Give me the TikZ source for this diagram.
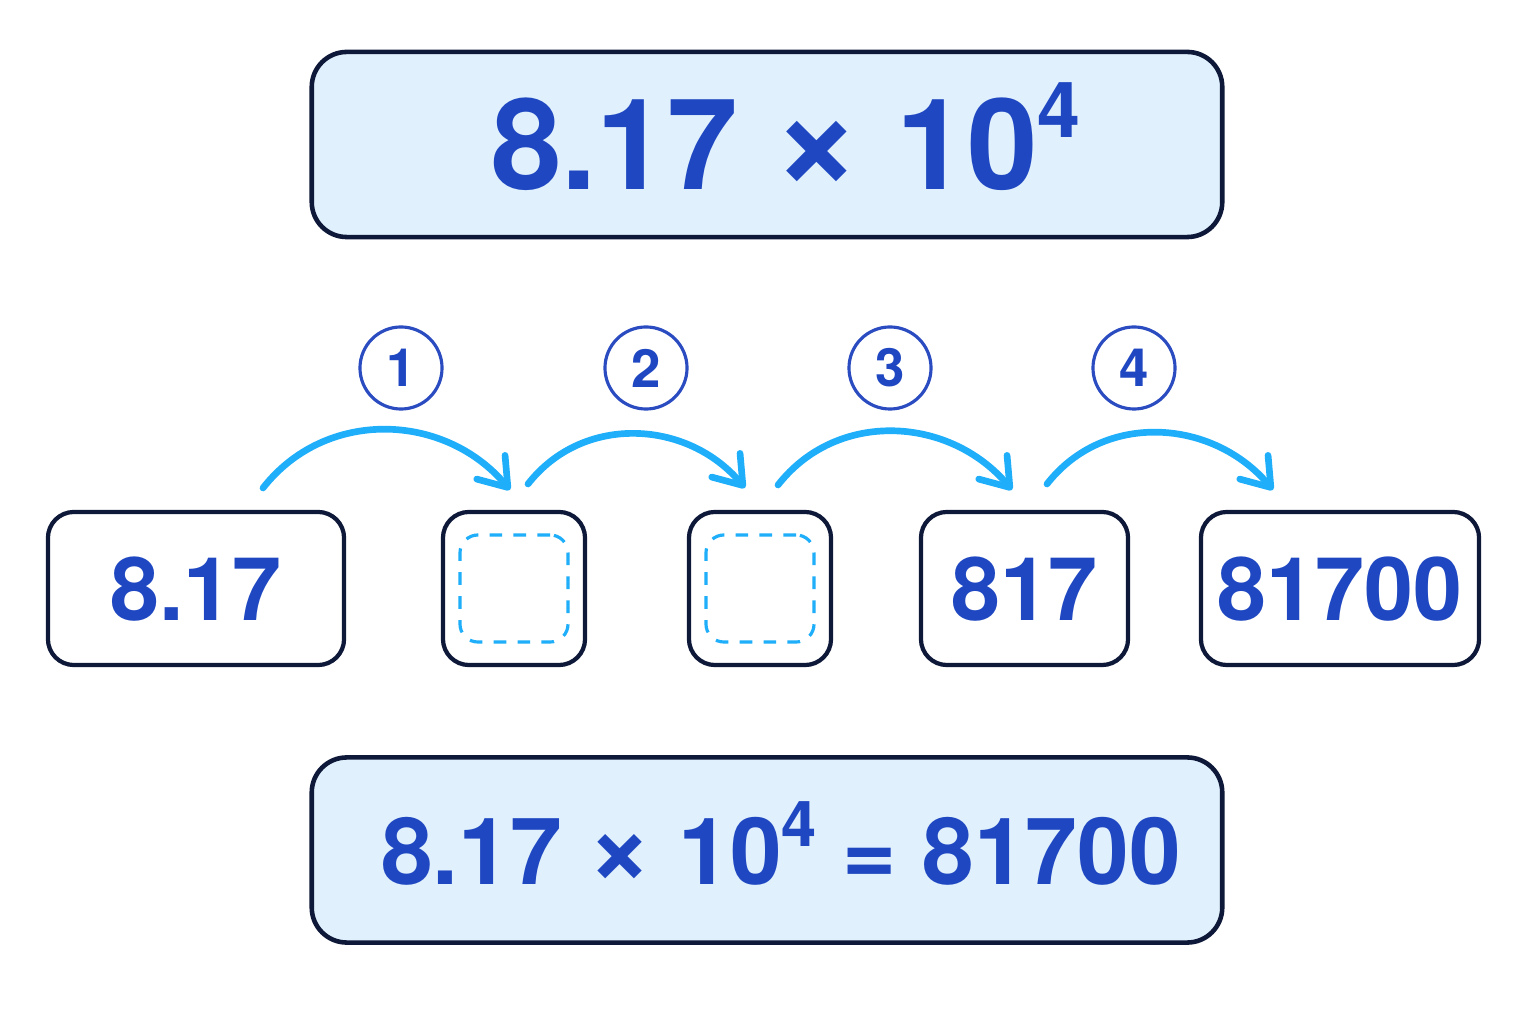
\documentclass[tikz,border=0pt]{standalone}
\usepackage{fontspec}
\setmainfont{TeX Gyre Heros}
\usetikzlibrary{arrows.meta}
\definecolor{numblue}{HTML}{1E47C1}
\definecolor{navy}{HTML}{0E1838}
\definecolor{paleblue}{HTML}{E0F0FC}
\definecolor{skyblue}{HTML}{1EAEFA}
\definecolor{ringblue}{HTML}{2A4CC0}
\newcommand{\bigtimes}{\scalebox{1.2}{×}}

\tikzset{
  resultbox/.style={draw=navy, line width=1.3pt, fill=paleblue, rounded corners=0.35cm,
    minimum width=9.1cm, minimum height=1.85cm},
  digitbox/.style={draw=navy, line width=1.2pt, fill=white, rounded corners=0.26cm,
    minimum height=1.53cm, inner sep=0pt, text height=18pt, text depth=0pt,
    text=numblue, font=\fontsize{25}{25}\selectfont\bfseries},
  slotbox/.style={draw=skyblue, line width=0.9pt, dash pattern=on 3.6pt off 3.2pt,
    rounded corners=0.18cm, minimum width=1.08cm, minimum height=1.07cm},
  stepnum/.style={circle, draw=ringblue, line width=0.9pt, minimum size=0.82cm,
    inner sep=0pt, text=numblue, font=\fontsize{15}{15}\selectfont\bfseries},
  hop/.style={skyblue, line width=1.9pt, line cap=round,
    -{Straight Barb[length=7.5pt,width=10.5pt,line cap=round,line join=round]}}
}

\begin{document}
\begin{tikzpicture}[x=0.01cm, y=0.01cm]
\useasboundingbox (0,0) rectangle (1536,1024);

% expression and result
\node[resultbox] (top) at (767,879.5) {};
\node[anchor=base, text=numblue, font=\fontsize{36}{36}\selectfont\bfseries] (toptxt) at (786,834)
  {8.17 \bigtimes{} 10\raisebox{14.8pt}{\fontsize{22}{22}\selectfont 4}};
\node[resultbox] (bot) at (767,174) {};
\node[anchor=base, text=numblue, font=\fontsize{26.4}{26.4}\selectfont\bfseries] (bottxt) at (781,139)
  {8.17 \bigtimes{} 10\raisebox{11pt}{\fontsize{18}{18}\selectfont 4} = 81700};

% digit boxes
\node[digitbox, minimum width=2.96cm] (b1) at (196,435.5) {8.17};
\node[digitbox, minimum width=1.42cm] (b2) at (514,435.5) {};
\node[digitbox, minimum width=1.42cm] (b3) at (760,435.5) {};
\node[digitbox, minimum width=2.07cm] (b4) at (1024.5,435.5) {817};
\node[digitbox, minimum width=2.78cm] (b5) at (1340,435.5) {81700};
\node[slotbox] (s2) at (b2) {};
\node[slotbox] (s3) at (b3) {};

% steps
\foreach \i/\x in {1/401, 2/646, 3/890, 4/1134}
  \node[stepnum] (n\i) at (\x,656) {\i};

% hops
\foreach \i/\sx/\sy/\ex/\ey in {1/263/536/510/534, 2/528/540/745/536,
                                3/778/539/1012/534, 4/1047/540/1273/534} {
  \coordinate (h\i s) at (\sx,\sy);
  \coordinate (h\i e) at (\ex,\ey);
  \draw[hop] (h\i s) to[out=52, in=130, looseness=1.05] (h\i e);
}
\end{tikzpicture}
\end{document}
